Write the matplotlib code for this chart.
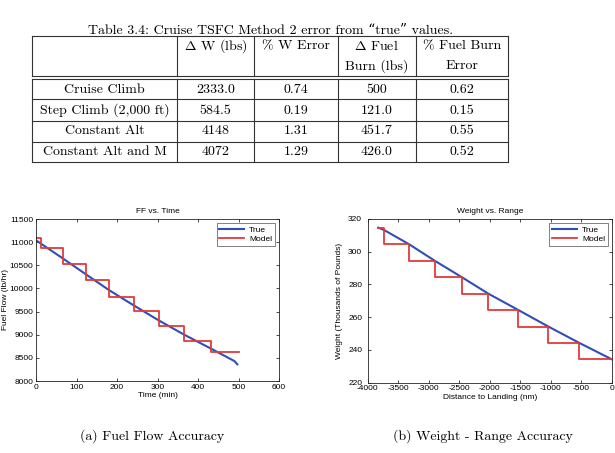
import matplotlib
matplotlib.use("Agg")
import matplotlib.pyplot as plt
import numpy as np

plt.rcParams['axes.unicode_minus'] = False
plt.rcParams['font.family'] = ['Liberation Sans', 'DejaVu Sans']

# table data
row_names = ['Cruise Climb', 'Step Climb (2,000 ft)', 'Constant Alt', 'Constant Alt and M']
col_names = [['$\\Delta$ W (lbs)', ''], ['% W Error', ''], ['$\\Delta$ Fuel', 'Burn (lbs)'], ['% Fuel Burn', 'Error']]
dw = ['2333.0', '584.5', '4148', '4072']
pct_w = ['0.74', '0.19', '1.31', '1.29']
dfuel = ['500', '121.0', '451.7', '426.0']
pct_fuel = ['0.62', '0.15', '0.55', '0.52']

# (a) fuel flow vs time
true_t = [0, 66, 124, 181, 242, 303, 366, 432, 490, 497]
true_ff = [11040, 10650, 10300, 9960, 9630, 9310, 9000, 8700, 8430, 8360]
model_t = [0, 13, 66, 124, 181, 242, 303, 366, 432, 501]
model_ff = [11084, 10883, 10522, 10184, 9824, 9514, 9190, 8873, 8635]

# (b) weight vs range
true_d = [-3826, -3733, -3318, -2897, -2459, -2023, -1531, -1039, -536, 0]
true_w = [314.7, 313.3, 304.5, 294.4, 284.5, 274.4, 264.4, 254.3, 244.4, 234.3]
model_d = [-3826, -3733, -3318, -2897, -2459, -2023, -1531, -1039, -536, 0]
model_w = [314.7, 304.5, 294.4, 284.5, 274.4, 264.4, 254.3, 244.4, 234.3]

BLUE = '#2f4fb5'
RED = '#e23a3a'
serif = ['cmr10', 'DejaVu Serif']
plt.rcParams['mathtext.fontset'] = 'cm'
tfs = 10

fig = plt.figure(figsize=(6.15, 4.53), dpi=100)

# page overlay in pixel coords
pg = fig.add_axes([0, 0, 1, 1])
pg.set_xlim(0, 615)
pg.set_ylim(453, 0)
pg.axis('off')

pg.text(271, 31, 'Table 3.4: Cruise TSFC Method 2 error from \u201ctrue\u201d values.',
        ha='center', va='center', fontsize=tfs, family=serif)

cols = [32, 177, 254.3, 337.7, 416, 508]
lc = '#333333'
lw = 0.8
for y in [36, 76, 79.3, 99.3, 120.7, 141.7, 162.3]:
    pg.plot([cols[0], cols[-1]], [y, y], color=lc, lw=lw)
for x in cols:
    pg.plot([x, x], [36, 76], color=lc, lw=lw)
    pg.plot([x, x], [79.3, 162.3], color=lc, lw=lw)

for i, (l1, l2) in enumerate(col_names):
    cx = (cols[i + 1] + cols[i + 2]) / 2
    pg.text(cx, 46, l1, ha='center', va='center', fontsize=tfs, family=serif)
    if l2:
        pg.text(cx, 66, l2, ha='center', va='center', fontsize=tfs, family=serif)

row_y = [90, 110.5, 131, 152]
for r, name in enumerate(row_names):
    vals = [name, dw[r], pct_w[r], dfuel[r], pct_fuel[r]]
    for c, v in enumerate(vals):
        cx = (cols[c] + cols[c + 1]) / 2
        pg.text(cx, row_y[r], v, ha='center', va='center', fontsize=tfs, family=serif)

pg.text(152, 436, '(a) Fuel Flow Accuracy', ha='center', va='center', fontsize=tfs, family=serif)
pg.text(483, 436, '(b) Weight - Range Accuracy', ha='center', va='center', fontsize=tfs, family=serif)

fs = 6


def style_ax(ax):
    ax.tick_params(direction='in', length=2.5, width=0.5, labelsize=fs,
                   top=True, right=True, pad=2)
    for s in ax.spines.values():
        s.set_linewidth(0.6)
        s.set_color('#222222')


def add_legend(ax):
    leg = ax.legend(loc='upper right', fontsize=fs, frameon=True, fancybox=False,
                    edgecolor='#222222', handlelength=3, borderpad=0.3,
                    labelspacing=0.2, borderaxespad=0.5, handletextpad=0.6)
    leg.get_frame().set_linewidth(0.5)


ax1 = fig.add_axes([36 / 615, 1 - 381 / 453, 243 / 615, 162 / 453])
ax1.plot(true_t, true_ff, color=BLUE, lw=1.5, label='True')
ax1.step(model_t, model_ff + [model_ff[-1]], where='post', color=RED, lw=1.3, label='Model')
ax1.set_xlim(0, 600)
ax1.set_ylim(8000, 11500)
ax1.set_xticks(np.arange(0, 601, 100))
ax1.set_yticks(np.arange(8000, 11501, 500))
ax1.set_title('FF vs. Time', fontsize=fs, pad=4)
ax1.set_xlabel('Time (min)', fontsize=fs, labelpad=1)
ax1.set_ylabel('Fuel Flow (lb/hr)', fontsize=fs)
ax1.yaxis.set_label_coords(-0.11, 0.5)
style_ax(ax1)
add_legend(ax1)

ax2 = fig.add_axes([367.7 / 615, 1 - 382.7 / 453, 244 / 615, 163.7 / 453])
ax2.plot(true_d, true_w, color=BLUE, lw=1.5, label='True')
ax2.step(model_d, model_w + [model_w[-1]], where='post', color=RED, lw=1.3, label='Model')
ax2.set_xlim(-4000, 0)
ax2.set_ylim(220, 320)
ax2.set_xticks(np.arange(-4000, 1, 500))
ax2.set_yticks(np.arange(220, 321, 20))
ax2.set_title('Weight vs. Range', fontsize=fs, pad=4)
ax2.set_xlabel('Distance to Landing (nm)', fontsize=fs, labelpad=1)
ax2.set_ylabel('Weight (Thousands of Pounds)', fontsize=fs)
ax2.yaxis.set_label_coords(-0.1, 0.5)
style_ax(ax2)
ax2.tick_params(axis='y', pad=4)
add_legend(ax2)

fig.savefig('out.png', dpi=100)
